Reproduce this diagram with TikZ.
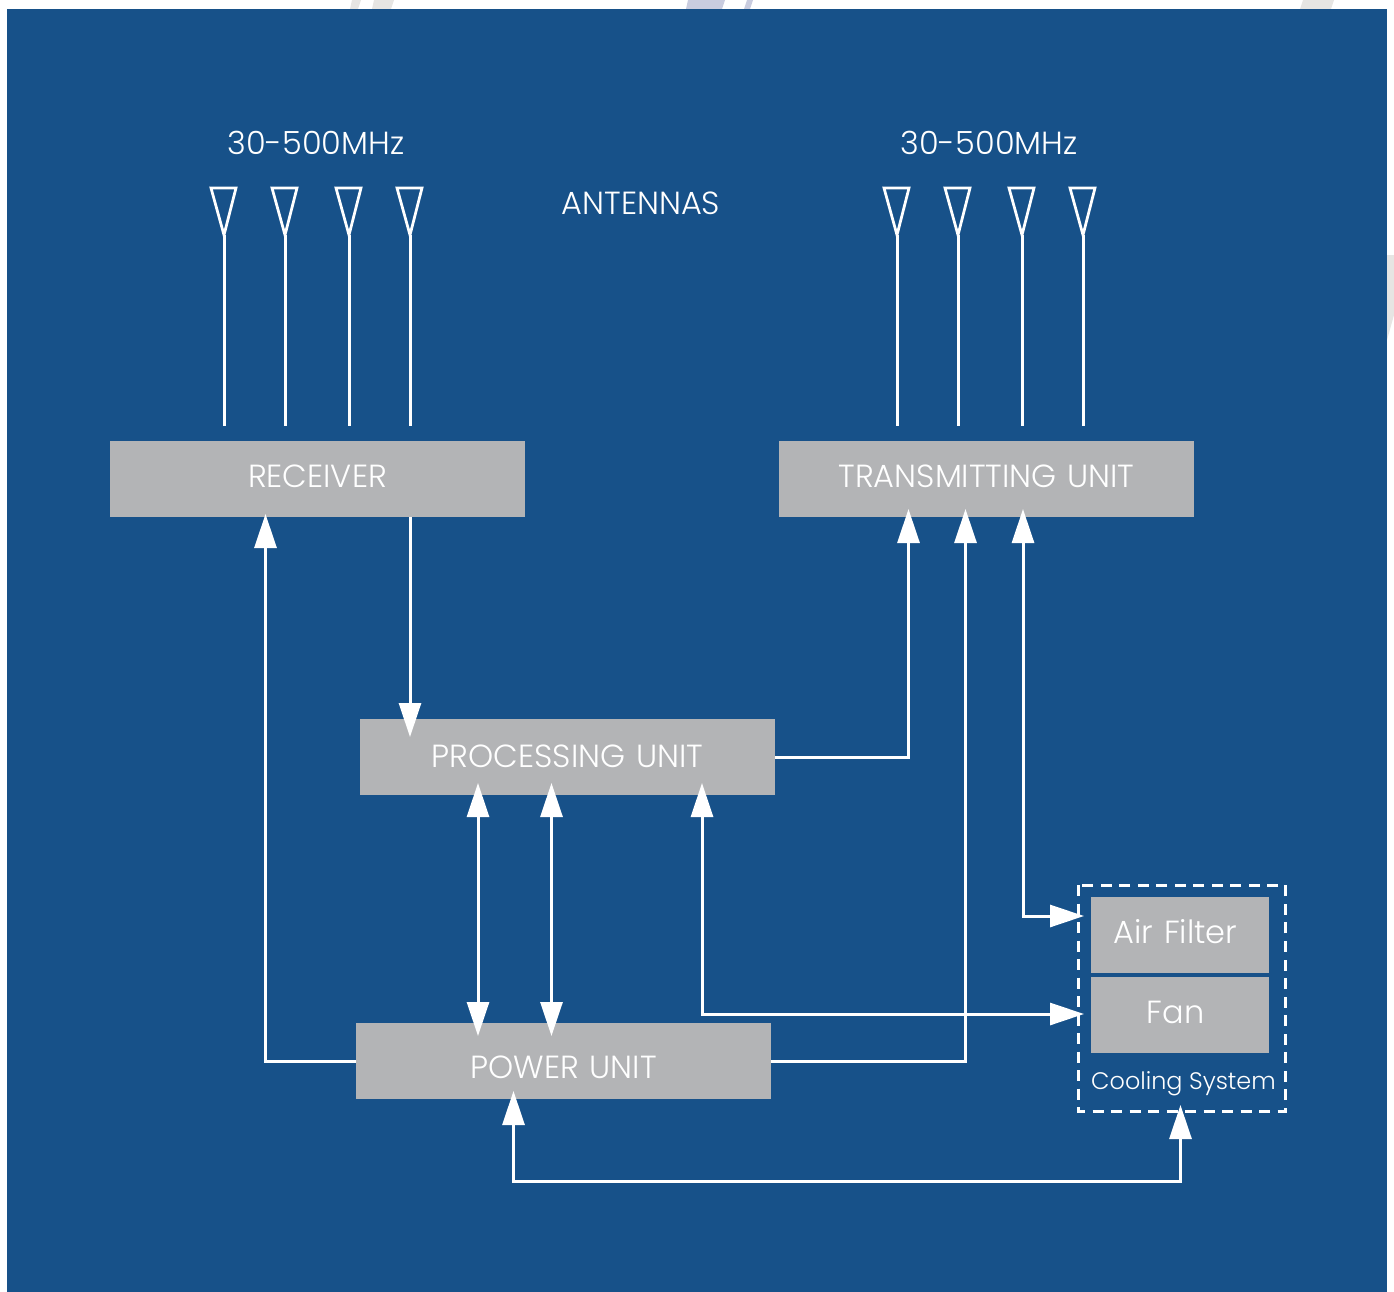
\documentclass[tikz,border=0pt]{standalone}
\usepackage{fontspec}
\setmainfont{Poppins Light}
\usepackage{xcolor}
\usetikzlibrary{arrows.meta}
\definecolor{panelblue}{HTML}{175189}
\definecolor{boxgray}{HTML}{B3B4B6}
\definecolor{stripegray}{HTML}{E6E5E3}
\definecolor{stripeblue}{HTML}{C9CCDF}
\newcommand{\nudged}[2]{\raisebox{-#1}[0pt][0pt]{#2}}
\begin{document}
\begin{tikzpicture}[
  x=.2mm,y=-.2mm,font=\fontsize{18.2pt}{20pt}\selectfont,text=white,
  unit/.style={fill=boxgray,text width=83mm,align=center,inner sep=0pt,minimum height=15.2mm},
  part/.style={fill=boxgray,text width=35.6mm,align=center,inner sep=0pt,minimum height=15.2mm},
  wire/.style={draw=white,line width=.6mm},
  flow/.style={wire,-{Triangle[length=6.8mm,width=4.4mm]}},
  twoway/.style={wire,{Triangle[length=6.8mm,width=4.4mm]}-{Triangle[length=6.8mm,width=4.4mm]}},
  aerial/.style={draw=white,line width=.55mm,miter limit=4}
]
\useasboundingbox (0,0) rectangle (1394,1292);
\fill[stripegray] (352,0) -- (361,0) -- (358,9) -- (350,9) -- cycle;
\fill[stripegray] (374,0) -- (394,0) -- (391,9) -- (372,9) -- cycle;
\fill[stripeblue] (688,0) -- (725,0) -- (722,9) -- (686,9) -- cycle;
\fill[stripeblue] (747,0) -- (753,0) -- (750,9) -- (744,9) -- cycle;
\fill[stripegray] (1303,0) -- (1334,0) -- (1331,9) -- (1300,9) -- cycle;
\fill[stripegray] (1387,255) -- (1394,255) -- (1394,315) -- (1387,340) -- cycle;
\fill[panelblue] (7,9) rectangle (1387,1292);

\node (band1) at (316,143) {30-500MHz};
\node (band2) at (989,143) {30-500MHz};
\node (antennas) at (641,203) {ANTENNAS};

\node[unit] (receiver) at (317.5,479) {\nudged{1.6mm}{RECEIVER}};
\node[unit] (transmit) at (986.5,479) {\nudged{1.6mm}{TRANSMITTING UNIT}};
\node[unit] (process) at (567.5,757) {\nudged{2mm}{PROCESSING UNIT}};
\node[unit] (power) at (563.5,1061) {\nudged{3.4mm}{POWER UNIT}};
\node[part] (filter) at (1180,935) {\nudged{1.6mm}{Air Filter}\hspace*{1.8mm}};
\node[part] (fan) at (1180,1015) {\nudged{1.6mm}{Fan}\hspace*{1.8mm}};
\node[font=\fontsize{13.6pt}{16pt}\selectfont] (cooling) at (1183.5,1084) {Cooling System};
\draw[wire,dash pattern=on 2.2mm off 1.5mm] (1078,885) rectangle (1285,1111);

\foreach \x/\n in {224/1,285/2,349/3,410/4,897/5,958/6,1022/7,1083/8} {
  \coordinate (tip\n) at (\x,235);
  \coordinate (foot\n) at (\x,426);
  \draw[aerial] (\x-13,188) -- (\x+12,188) -- (tip\n) -- cycle;
  \draw[wire] (tip\n) -- (foot\n);
}

\coordinate (rxback) at (265.5,514);
\coordinate (rxout) at (410,517);
\coordinate (procin) at (410,737);
\coordinate (txa) at (908.5,509);
\coordinate (txb) at (965.5,509);
\coordinate (txc) at (1023,509);
\coordinate (filterin) at (1084,916);
\coordinate (fanin) at (1084,1014);
\coordinate (procc) at (702,783);
\coordinate (pwrup) at (513.5,1091);
\coordinate (coolin) at (1180.5,1105);
\coordinate (busa) at (513.5,1181.5);

\draw[flow] (power.west) -| (rxback);
\draw[flow] (rxout) -- (procin);
\draw[flow] (process.east) -| (txa);
\draw[flow] (power.east) -| (txb);
\draw[twoway] (txc) |- (filterin);
\draw[twoway] (procc) |- (fanin);
\foreach \x in {478,551.5} \draw[twoway] (\x,783) -- (\x,1036);
\draw[twoway] (pwrup) -- (busa) -| (coolin);
\end{tikzpicture}
\end{document}
